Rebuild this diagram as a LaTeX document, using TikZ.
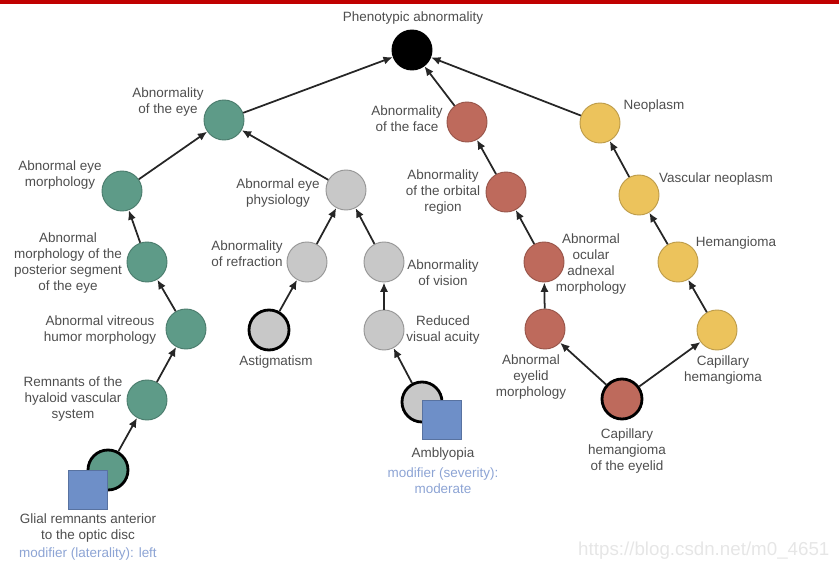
\documentclass[tikz,border=0pt]{standalone}
\usepackage{fontspec}
\setmainfont{Liberation Sans}
\usetikzlibrary{arrows.meta}

\definecolor{eyegreen}{HTML}{5E9B88}
\definecolor{physgray}{HTML}{C8C8C8}
\definecolor{facered}{HTML}{BE6A5C}
\definecolor{neoyellow}{HTML}{ECC35C}
\definecolor{modblue}{HTML}{6E8FC8}
\definecolor{modtext}{HTML}{8DA4D4}
\definecolor{labelgray}{HTML}{4E4E4E}
\definecolor{barred}{HTML}{C00000}
\definecolor{markgray}{HTML}{E6E6E6}

\begin{document}
\begin{tikzpicture}[
    x=0.03cm, y=-0.03cm,
    every node/.style={font=\fontsize{11.5}{13.4}\selectfont, text=labelgray},
    term/.style={
        circle,
        minimum size=1.2cm,
        inner sep=0pt,
        line width=0.8pt
    },
    eyeterm/.style={term, fill=eyegreen, draw=eyegreen!80!black},
    physterm/.style={term, fill=physgray, draw=physgray!75!black},
    faceterm/.style={term, fill=facered, draw=facered!80!black},
    neoterm/.style={term, fill=neoyellow, draw=neoyellow!80!black},
    rootterm/.style={term, fill=black, draw=black},
    patient/.style={draw=black, line width=2.4pt},
    modbox/.style={
        rectangle,
        minimum size=1.16cm,
        inner sep=0pt,
        fill=modblue,
        draw=modblue!80!black,
        line width=0.8pt
    },
    lbl/.style={align=center, inner sep=0pt},
    modlbl/.style={lbl, text=modtext},
    isa/.style={
        -{Latex[length=8pt, width=7pt]},
        line width=1.5pt,
        black!85
    }
]

\useasboundingbox (0,0) rectangle (839,564);
\draw[barred, line width=2.6pt] (0,2) -- (839,2);

% ============================================
% Root
% ============================================
\node[rootterm] (root) at (412,50) {};
\node[lbl] (lroot) at (413,18) {Phenotypic abnormality};

% ============================================
% Eye morphology branch (green)
% ============================================
\node[eyeterm] (eye) at (224,120) {};
\node[eyeterm] (eyemorph) at (122,191) {};
\node[eyeterm] (postseg) at (147,262) {};
\node[eyeterm] (vitreous) at (186,329) {};
\node[eyeterm] (hyaloid) at (147,400) {};
\node[eyeterm, patient] (glial) at (108,470) {};
\node[modbox] (glialmod) at (88,490) {};

\node[lbl] (leye) at (168,102) {Abnormality\\of the eye};
\node[lbl] (leyemorph) at (60,175) {Abnormal eye\\morphology};
\node[lbl] (lpostseg) at (68,263) {Abnormal\\morphology of the\\posterior segment\\of the eye};
\node[lbl] (lvitreous) at (100,330) {Abnormal vitreous\\humor morphology};
\node[lbl] (lhyaloid) at (73,399) {Remnants of the\\hyaloid vascular\\system};
\node[lbl] (lglial) at (88,528) {Glial remnants anterior\\to the optic disc};
\node[modlbl] (lglialmod) at (88,554) {modifier (laterality): left};

% ============================================
% Eye physiology branch (grey)
% ============================================
\node[physterm] (physio) at (346,190) {};
\node[physterm] (refract) at (307,262) {};
\node[physterm] (vision) at (384,262) {};
\node[physterm, patient] (astig) at (269,330) {};
\node[physterm] (acuity) at (384,330) {};
\node[physterm, patient] (amblyo) at (422,402) {};
\node[modbox] (amblyomod) at (442,420) {};

\node[lbl] (lphysio) at (278,193) {Abnormal eye\\physiology};
\node[lbl] (lrefract) at (247,254) {Abnormality\\of refraction};
\node[lbl] (lvision) at (443,273) {Abnormality\\of vision};
\node[lbl] (lastig) at (276,362) {Astigmatism};
\node[lbl] (lacuity) at (443,330) {Reduced\\visual acuity};
\node[lbl] (lamblyo) at (443,454) {Amblyopia};
\node[modlbl] (lamblyomod) at (443,481) {modifier (severity):\\moderate};

% ============================================
% Face branch (red)
% ============================================
\node[faceterm] (face) at (467,122) {};
\node[faceterm] (orbital) at (506,192) {};
\node[faceterm] (adnexal) at (544,262) {};
\node[faceterm] (eyelid) at (545,329) {};
\node[faceterm, patient] (caphemlid) at (622,399) {};

\node[lbl] (lface) at (407,119) {Abnormality\\of the face};
\node[lbl] (lorbital) at (443,192) {Abnormality\\of the orbital\\region};
\node[lbl] (ladnexal) at (591,264) {Abnormal\\ocular\\adnexal\\morphology};
\node[lbl] (leyelid) at (531,377) {Abnormal\\eyelid\\morphology};
\node[lbl] (lcaphemlid) at (627,451) {Capillary\\hemangioma\\of the eyelid};

% ============================================
% Neoplasm branch (yellow)
% ============================================
\node[neoterm] (neo) at (600,123) {};
\node[neoterm] (vascneo) at (639,195) {};
\node[neoterm] (hemang) at (678,262) {};
\node[neoterm] (caphem) at (717,330) {};

\node[lbl] (lneo) at (654,106) {Neoplasm};
\node[lbl] (lvascneo) at (716,179) {Vascular neoplasm};
\node[lbl] (lhemang) at (736,243) {Hemangioma};
\node[lbl] (lcaphem) at (723,370) {Capillary\\hemangioma};

% ============================================
% is-a links
% ============================================
\draw[isa] (eye) -- (root);
\draw[isa] (face) -- (root);
\draw[isa] (neo) -- (root);

\draw[isa] (eyemorph) -- (eye);
\draw[isa] (physio) -- (eye);
\draw[isa] (postseg) -- (eyemorph);
\draw[isa] (vitreous) -- (postseg);
\draw[isa] (hyaloid) -- (vitreous);
\draw[isa] (glial) -- (hyaloid);

\draw[isa] (refract) -- (physio);
\draw[isa] (vision) -- (physio);
\draw[isa] (astig) -- (refract);
\draw[isa] (acuity) -- (vision);
\draw[isa] (amblyo) -- (acuity);

\draw[isa] (orbital) -- (face);
\draw[isa] (adnexal) -- (orbital);
\draw[isa] (eyelid) -- (adnexal);
\draw[isa] (caphemlid) -- (eyelid);
\draw[isa] (caphemlid) -- (caphem);

\draw[isa] (vascneo) -- (neo);
\draw[isa] (hemang) -- (vascneo);
\draw[isa] (caphem) -- (hemang);

% watermark
\node[anchor=west, text=markgray, font=\fontsize{16}{18}\selectfont, inner sep=0pt] (mark) at (578,551) {https://blog.csdn.net/m0\_4651};

\end{tikzpicture}
\end{document}
